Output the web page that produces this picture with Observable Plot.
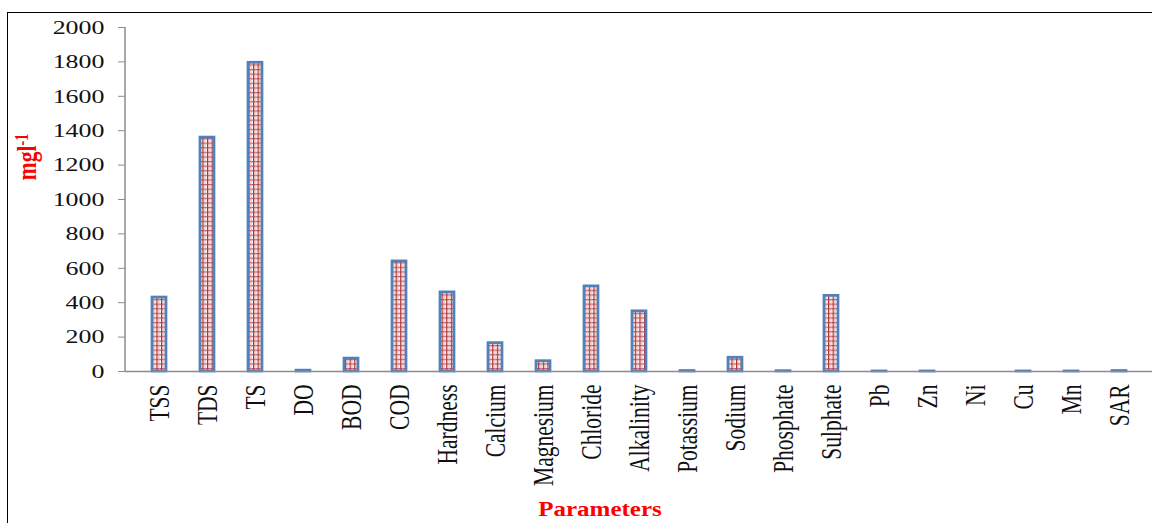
<!DOCTYPE html>
<html>
<head>
<meta charset="utf-8">
<script src="https://cdn.jsdelivr.net/npm/d3@7"></script>
<script src="https://cdn.jsdelivr.net/npm/@observablehq/plot@0.6"></script>
<style>
  html, body { margin: 0; padding: 0; background: #fff; overflow: hidden; }
  #wrap { position: relative; width: 1152px; height: 523px; }
  #frame { position: absolute; left: 7px; top: 12px; width: 1300px; height: 700px; border: 1.3px solid #000; box-sizing: border-box; }
  #chart { position: absolute; left: 0; top: 0; }
</style>
</head>
<body>
<div id="wrap"><div id="frame"></div><div id="chart"></div></div>
<script>
const parameters = ["TSS","TDS","TS","DO","BOD","COD","Hardness","Calcium","Magnesium","Chloride","Alkalinity","Potassium","Sodium","Phosphate","Sulphate","Pb","Zn","Ni","Cu","Mn","SAR"];
const values =     [430, 1360, 1795, 5, 75, 640, 460, 165, 60, 495, 350, 3, 80, 2, 440, 0.5, 0.5, null, 0.5, 0.5, 3];
const yTicks = [0,200,400,600,800,1000,1200,1400,1600,1800,2000];
const yLabel = "mgl";
const yLabelSup = "-1";
const xLabel = "Parameters";

const data = parameters.map((p, i) => ({parameter: p, value: values[i]})).filter(d => d.value != null);

const plot = Plot.plot({
  width: 1152,
  height: 523,
  marginTop: 27,
  marginBottom: 152,
  marginLeft: 125,
  marginRight: 0,
  style: {fontFamily: "'Liberation Serif', 'Times New Roman', serif", background: "transparent", overflow: "visible"},
  x: {domain: parameters, paddingInner: 0.71, paddingOuter: 0.355, label: null},
  y: {domain: [0, 2000], label: null},
  marks: [
    Plot.barY(data, {x: "parameter", y: "value", fill: "url(#gridpat)", stroke: "#4F81BD", strokeWidth: 2.7}),
    Plot.ruleY([0], {stroke: "#8c8c8c", strokeWidth: 1.5}),
    Plot.axisY({ticks: yTicks, tickFormat: d3.format("d"), tickSize: 7, tickPadding: 14, stroke: "#8c8c8c", fontSize: 19.5, fill: "#111", label: null}),
    Plot.axisX({tickSize: 0, tickPadding: 13, tickRotate: -90, fontSize: 21.5, fill: "#111", label: null})
  ]
});

const svg = d3.select(plot);
// pattern fill for bars
const defs = svg.insert("defs", ":first-child");
const pat = defs.append("pattern").attr("id", "gridpat").attr("patternUnits", "userSpaceOnUse")
  .attr("width", 4.6).attr("height", 4.6);
pat.append("rect").attr("width", 4.6).attr("height", 4.6).attr("fill", "#ffffff");
pat.append("rect").attr("x", 0).attr("y", 0).attr("width", 1.2).attr("height", 4.6).attr("fill", "#A8282B");
pat.append("rect").attr("x", 0).attr("y", 0).attr("width", 4.6).attr("height", 1.2).attr("fill", "#B8474A");
pat.append("rect").attr("x", 2.3).attr("y", 0).attr("width", 0.9).attr("height", 4.6).attr("fill", "#E3A9AA");

// y-axis line
const yS = plot.scale("y");
svg.append("line").attr("x1", 125).attr("x2", 125)
  .attr("y1", yS.apply(0)).attr("y2", yS.apply(2000))
  .attr("stroke", "#8c8c8c").attr("stroke-width", 1.5);

// stretch tick labels horizontally like the reference
function num(v) { const n = parseFloat(v); return Number.isFinite(n) ? n : 0; }
function stretch(sel, s) {
  sel.each(function() {
    const t = d3.select(this);
    const tr = t.attr("transform") || "";
    if (tr.includes("rotate(")) {
      t.attr("transform", tr.replace("rotate(", `scale(${s},1) rotate(`));
    } else {
      const x = num(t.attr("x"));
      t.attr("transform", `${tr} translate(${x},0) scale(${s},1) translate(${-x},0)`);
    }
  });
}
stretch(svg.selectAll('g[aria-label="y-axis tick label"] text'), 1.33);
stretch(svg.selectAll('g[aria-label="x-axis tick label"] text'), 1.4);

// axis titles
const yl = svg.append("text")
  .attr("transform", "translate(36,157) scale(1.3,1) rotate(-90)")
  .attr("text-anchor", "middle")
  .attr("fill", "#FF0000").attr("font-weight", "bold").attr("font-size", 21.5)
  .attr("font-family", "'Liberation Serif', serif");
yl.append("tspan").text(yLabel);
yl.append("tspan").attr("dy", "-0.45em").attr("font-size", 14).text(yLabelSup);

svg.append("text")
  .attr("transform", "translate(600,516) scale(1.25,1)")
  .attr("text-anchor", "middle")
  .attr("fill", "#FF0000").attr("font-weight", "bold").attr("font-size", 20)
  .attr("font-family", "'Liberation Serif', serif")
  .text(xLabel);

document.getElementById("chart").appendChild(plot);
</script>
</body>
</html>
